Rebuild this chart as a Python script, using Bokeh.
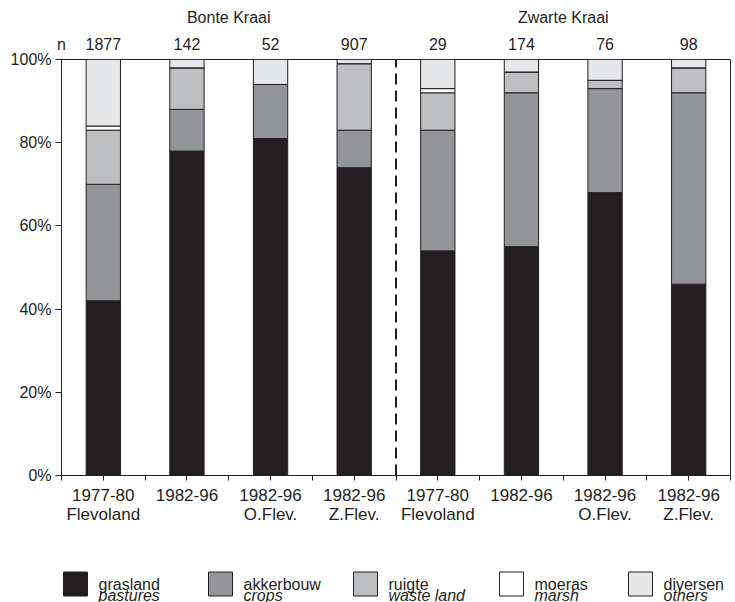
from bokeh.plotting import figure
from bokeh.models import ColumnDataSource, FixedTicker, Range1d, LinearAxis, Arrow
from bokeh.layouts import column
from bokeh.embed import file_html
from bokeh.resources import INLINE
from bokeh.core.properties import value

# --- data -------------------------------------------------------------
species = ["Bonte Kraai", "Zwarte Kraai"]
periods = ["1977-80", "1982-96", "1982-96", "1982-96",
           "1977-80", "1982-96", "1982-96", "1982-96"]
regions = ["Flevoland", "", "O.Flev.", "Z.Flev.",
           "Flevoland", "", "O.Flev.", "Z.Flev."]
n_obs = [1877, 142, 52, 907, 29, 174, 76, 98]

# habitat shares (%) per sample
grasland = [42, 78, 81, 74, 54, 55, 68, 46]
akkerbouw = [28, 10, 13, 9, 29, 37, 25, 46]
ruigte = [13, 10, 0, 16, 9, 5, 2, 6]
moeras = [1, 0, 0, 0, 1, 0, 0, 0]
diversen = [16, 2, 6, 1, 7, 3, 5, 2]

habitat_nl = ["grasland", "akkerbouw", "ruigte", "moeras", "diversen"]
habitat_en = ["pastures", "crops", "waste land", "marsh", "others"]
y_ticks = [0, 20, 40, 60, 80, 100]

# --- style ------------------------------------------------------------
FONT = "Liberation Sans"
INK = "#231f20"
fills = ["#231f20", "#939598", "#bcbec0", "#ffffff", "#e6e7e8"]

n_bars = len(n_obs)
xs = [i + 0.5 for i in range(n_bars)]
per_group = n_bars // len(species)

src = ColumnDataSource(dict(
    x=xs, grasland=grasland, akkerbouw=akkerbouw, ruigte=ruigte,
    moeras=moeras, diversen=diversen,
))

p = figure(
    frame_width=669, frame_height=416,
    min_border_left=61, min_border_right=5,
    min_border_top=59, min_border_bottom=65,
    x_range=Range1d(0, n_bars), y_range=Range1d(0, 100),
    output_backend="svg", toolbar_location=None,
    background_fill_color="white", border_fill_color="white",
)
p.grid.visible = False
p.outline_line_color = INK
p.outline_line_width = 1

p.vbar_stack(habitat_nl, x="x", width=0.41, source=src,
             fill_color=fills, line_color=INK, line_width=1)


def style_text(ax, size):
    ax.major_label_text_font = FONT
    ax.major_label_text_font_size = size
    ax.major_label_text_color = INK


# y axis in percent
p.yaxis.ticker = FixedTicker(ticks=y_ticks)
p.yaxis.major_label_overrides = {t: f"{t}%" for t in y_ticks}
p.yaxis.minor_tick_line_color = None
p.yaxis.major_tick_in = 0
p.yaxis.major_tick_out = 6
p.yaxis.major_label_standoff = 4
p.yaxis.axis_line_color = INK
p.yaxis.major_tick_line_color = INK
style_text(p.yaxis[0], "16px")

# x axis: ticks at bar centres and between bars, two-line sample labels
half_ticks = [i * 0.5 for i in range(2 * n_bars + 1)]
x_labels = {t: "" for t in half_ticks}
for xi, per, reg in zip(xs, periods, regions):
    x_labels[xi] = per + ("\n" + reg if reg else "")
xa = p.xaxis[0]
xa.ticker = FixedTicker(ticks=half_ticks)
xa.major_label_overrides = x_labels
xa.minor_tick_line_color = None
xa.major_tick_in = 0
xa.major_tick_out = 5
xa.major_label_standoff = 5
xa.axis_line_color = INK
xa.major_tick_line_color = INK
xa.major_label_text_line_height = 1.0
style_text(xa, "17px")

# sample sizes above the bars
n_labels = {0: "n"}
n_labels.update({xi: str(n) for xi, n in zip(xs, n_obs)})
n_axis = LinearAxis(
    ticker=FixedTicker(ticks=[0] + xs), major_label_overrides=n_labels,
    axis_line_color=None, major_tick_line_color=None,
    minor_tick_line_color=None, major_label_standoff=1,
)
style_text(n_axis, "16px")
p.add_layout(n_axis, "above")

# species names, centred over each group of bars
group_centres = [per_group * g + per_group / 2 for g in range(len(species))]
sp_axis = LinearAxis(
    ticker=FixedTicker(ticks=group_centres),
    major_label_overrides={c: s for c, s in zip(group_centres, species)},
    axis_line_color=None, major_tick_line_color=None,
    minor_tick_line_color=None, major_label_standoff=1,
)
style_text(sp_axis, "16px")
p.add_layout(sp_axis, "above")

# dashed separator between the two species
for g in range(1, len(species)):
    p.add_layout(Arrow(
        x_start=per_group * g, y_start=0, x_end=per_group * g, y_end=102.2,
        end=None, line_color=INK, line_width=2, line_dash="11 6",
    ))

# --- legend panel (coordinates in page pixels) --------------------------
leg = figure(
    frame_width=669, frame_height=62,
    min_border_left=61, min_border_right=5, min_border_top=0, min_border_bottom=0,
    x_range=Range1d(61, 730), y_range=Range1d(62, 0),
    x_axis_type=None, y_axis_type=None,
    output_backend="svg", toolbar_location=None,
    background_fill_color="white", border_fill_color="white",
)
leg.grid.visible = False
leg.outline_line_color = None

leg_left = [63, 208, 353, 499, 628]
leg_src = ColumnDataSource(dict(
    sx=[l + 12 for l in leg_left], tx=[l + 35 for l in leg_left],
    nl=habitat_nl, en=habitat_en, fill=fills,
))
leg.rect(x="sx", y=43.5, width=24, height=24, source=leg_src,
         fill_color="fill", line_color=INK, line_width=1)
leg.text(x="tx", y=44, text="nl", source=leg_src,
         text_font=value(FONT), text_font_size="16px", text_color=INK,
         text_baseline="alphabetic")
leg.text(x="tx", y=55, text="en", source=leg_src,
         text_font=value(FONT), text_font_size="16px", text_color=INK,
         text_font_style="italic", text_baseline="alphabetic")

layout = column(p, leg, spacing=0)
open("out.html", "w").write(file_html(layout, INLINE))
